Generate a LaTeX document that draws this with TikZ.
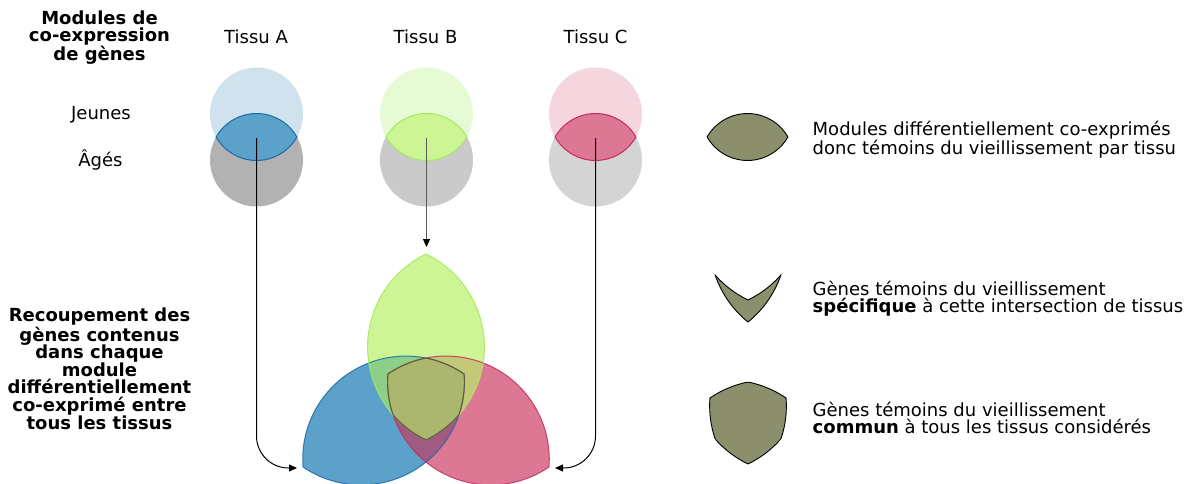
\documentclass[tikz,border=0pt]{standalone}
\usepackage{fontspec}
\setmainfont{DejaVu Sans}
\usetikzlibrary{arrows.meta}

% tissue colours
\definecolor{aTop}{HTML}{CFE2EE}
\definecolor{aOld}{HTML}{B2B2B2}
\definecolor{aLens}{HTML}{5BA1C9}
\definecolor{aLine}{HTML}{1B6BAA}
\definecolor{bTop}{HTML}{E7FAD6}
\definecolor{bOld}{HTML}{CACACA}
\definecolor{bLens}{HTML}{CDF596}
\definecolor{bLine}{HTML}{A5E95E}
\definecolor{cTop}{HTML}{F5D6DF}
\definecolor{cOld}{HTML}{D4D4D4}
\definecolor{cLens}{HTML}{DC7894}
\definecolor{cLine}{HTML}{C8285A}
% overlaps of the three big lenses
\definecolor{abMix}{HTML}{8BCF88}
\definecolor{bcMix}{HTML}{C6C879}
\definecolor{acMix}{HTML}{A15A82}
\definecolor{allMix}{HTML}{ABB66E}
\definecolor{allLine}{HTML}{5E5C3C}
\definecolor{legOlive}{HTML}{8B8F6B}

% lens formed by a young circle and an old circle (centred on x = 0)
\def\smalllens{(-40.4,137) arc[start angle=-150.35, end angle=-29.65, radius=46.5]
  arc[start angle=29.65, end angle=150.35, radius=46.5] -- cycle}
% vertical lens of the lower diagram (tissue B); A and C are rotated copies
\def\vlens{(426,254) arc[start angle=-64.3, end angle=64.3, radius=103.2]
  arc[start angle=115.7, end angle=244.3, radius=103.2] -- cycle}
% large frame running the other way round, to punch out a lens
\def\outside{(-600,-600) -- (-600,1600) -- (2200,1600) -- (2200,-600) -- cycle}

% zone shared by the three lenses
\newcommand\commonzone[2]{%
  \begin{scope}
    \clip \vlens; \clip[rotA] \vlens; \clip[rotC] \vlens;
    \fill[#1] \outside;
  \end{scope}
  \begin{scope}
    \clip[rotA] \vlens; \clip[rotC] \vlens; \draw[#2] \vlens;
  \end{scope}
  \begin{scope}
    \clip \vlens; \clip[rotC] \vlens; \draw[#2, rotA] \vlens;
  \end{scope}
  \begin{scope}
    \clip \vlens; \clip[rotA] \vlens; \draw[#2, rotC] \vlens;
  \end{scope}}

% zone shared by A and C only
\newcommand\aczone[2]{%
  \begin{scope}
    \clip[rotA] \vlens; \clip[rotC] \vlens; \clip \outside \vlens;
    \fill[#1] \outside;
  \end{scope}
  \begin{scope}
    \clip[rotA] \vlens; \clip[rotC] \vlens; \draw[#2] \vlens;
  \end{scope}
  \begin{scope}
    \clip[rotC] \vlens; \clip \outside \vlens; \draw[#2, rotA] \vlens;
  \end{scope}
  \begin{scope}
    \clip[rotA] \vlens; \clip \outside \vlens; \draw[#2, rotC] \vlens;
  \end{scope}}

\begin{document}
\begin{tikzpicture}[x=1pt, y=-1pt,
  rotA/.style={rotate around={120:(426,396)}},
  rotC/.style={rotate around={-120:(426,396)}},
  txt/.style={font=\fontsize{18}{17}\selectfont, inner sep=0pt},
  title/.style={font=\bfseries\fontsize{18}{17.6}\selectfont, inner sep=0pt, align=center},
  legtxt/.style={font=\fontsize{18}{17}\selectfont, inner sep=0pt, align=left},
  arr/.style={line width=1pt, -{Triangle[length=8pt, width=7pt, color=black]}},
  lensline/.style={line width=1pt},
  legshape/.style={fill=legOlive, draw=black, line width=0.9pt}]

\fill[white] (0,0) rectangle (1193,484);
\useasboundingbox (0,0) rectangle (1193,484);

% ---- titles and row labels
\node[title, anchor=north] (tmod) at (99.5,10.3) {Modules de\\co-expression\\de gènes};
\node[title, anchor=north] (trec) at (99.5,308) {Recoupement des\\gènes contenus\\dans chaque\\module\\différentiellement\\co-exprimé entre\\tous les tissus};
\node[txt, anchor=base] (tisA) at (256,44) {Tissu A};
\node[txt, anchor=base] (tisB) at (425.5,44) {Tissu B};
\node[txt, anchor=base] (tisC) at (595.5,44) {Tissu C};
\node[txt, anchor=base] (young) at (101,120) {Jeunes};
\node[txt, anchor=base] (old) at (100.5,166.7) {Âgés};

% ---- young / old circles per tissue
\fill[aTop] (256.5,114) circle (46.5);
\fill[aOld] (256.5,160) circle (46.5);
\fill[aLens, draw=aLine, lensline, shift={(256.5,0)}] \smalllens;
\fill[bTop] (426.5,114) circle (46.5);
\fill[bOld] (426.5,160) circle (46.5);
\fill[bLens, draw=bLine, lensline, shift={(426.5,0)}] \smalllens;
\fill[cTop] (595.5,114) circle (46.5);
\fill[cOld] (595.5,160) circle (46.5);
\fill[cLens, draw=cLine, lensline, shift={(595.5,0)}] \smalllens;

% ---- lower diagram: the three lenses
\fill[aLens, rotA] \vlens;
\fill[cLens, rotC] \vlens;
\fill[bLens] \vlens;
\begin{scope}\clip[rotA] \vlens; \clip \vlens; \fill[abMix] \outside;\end{scope}
\begin{scope}\clip[rotC] \vlens; \clip \vlens; \fill[bcMix] \outside;\end{scope}
\begin{scope}\clip[rotA] \vlens; \clip[rotC] \vlens; \fill[acMix] \outside;\end{scope}
\draw[aLine, lensline, draw opacity=0.85, rotA] \vlens;
\draw[cLine, lensline, draw opacity=0.85, rotC] \vlens;
\draw[bLine, lensline, draw opacity=0.85] \vlens;
\commonzone{allMix}{allLine, line width=1.1pt}

% ---- connectors
\coordinate (lensA) at (256.5,138);
\coordinate (lensB) at (426.5,138);
\coordinate (lensC) at (595.5,138);
\coordinate (endA) at (297,468);
\coordinate (endB) at (426.5,247);
\coordinate (endC) at (555,468);
\draw[arr, rounded corners=32pt] (lensA) |- (endA);
\draw[arr, draw=black!65] (lensB) -- (endB);
\draw[arr, rounded corners=32pt] (lensC) |- (endC);

% ---- legend
\fill[legshape, shift={(747.5,0)}] \smalllens;
\begin{scope}[shift={(322,-140)}]
  \aczone{legOlive}{black, line width=0.9pt}
\end{scope}
\begin{scope}[shift={(322,24)}]
  \commonzone{legOlive}{black, line width=0.9pt}
\end{scope}
\node[legtxt, anchor=north west] (leg1) at (812.5,120.6) {Modules différentiellement co-exprimés\\donc témoins du vieillissement par tissu};
\node[legtxt, anchor=north west] (leg2) at (812.5,280.6) {Gènes témoins du vieillissement\\\textbf{spécifique} à cette intersection de tissus};
\node[legtxt, anchor=north west] (leg3) at (812.5,402.3) {Gènes témoins du vieillissement\\\textbf{commun} à tous les tissus considérés};
\end{tikzpicture}
\end{document}
